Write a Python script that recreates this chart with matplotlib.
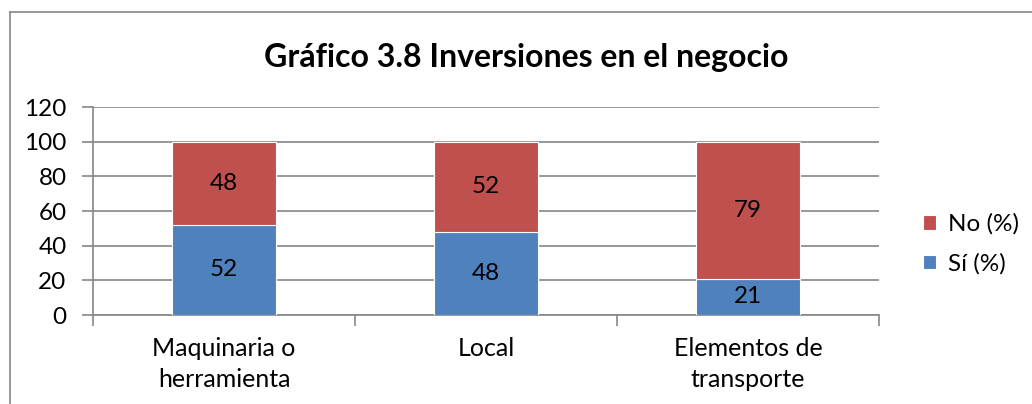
import matplotlib
matplotlib.use("Agg")
import matplotlib.pyplot as plt
from matplotlib.lines import Line2D
import numpy as np

categories = ["Maquinaria o\nherramienta", "Local", "Elementos de\ntransporte"]
si_values = [52, 48, 21]
no_values = [48, 52, 79]
y_ticks = [0, 20, 40, 60, 80, 100, 120]
title = "Gráfico 3.8 Inversiones en el negocio"

blue = "#4F81BD"
red = "#C0504D"
grid_col = "#868686"

plt.rcParams["font.family"] = ["Lato", "DejaVu Sans"]

W, H = 1032, 404
fig = plt.figure(figsize=(W / 100, H / 100), dpi=100)
ax = fig.add_axes([93 / W, 1 - 315 / H, (879 - 93) / W, (315 - 107) / H])

x = np.arange(len(categories))
b1 = ax.bar(x, si_values, width=0.4, color=blue, edgecolor="white", linewidth=0.8,
            label="Sí (%)", zorder=3)
b2 = ax.bar(x, no_values, bottom=si_values, width=0.4, color=red, edgecolor="white",
            linewidth=0.8, label="No (%)", zorder=3)

for rect, v in zip(b1, si_values):
    ax.text(rect.get_x() + rect.get_width() / 2, rect.get_y() + rect.get_height() / 2,
            str(v), ha="center", va="center", fontsize=17.5, zorder=4)
for rect, v in zip(b2, no_values):
    ax.text(rect.get_x() + rect.get_width() / 2, rect.get_y() + rect.get_height() / 2,
            str(v), ha="center", va="center", fontsize=17.5, zorder=4)

ax.set_xlim(-0.5, len(categories) - 0.5)
ax.set_ylim(0, 120)
ax.set_yticks(y_ticks)
ax.yaxis.grid(True, color=grid_col, linewidth=1.2, zorder=0)
ax.set_axisbelow(True)

# category labels centered, ticks at boundaries
ax.set_xticks(x)
ax.set_xticklabels(categories, fontsize=18, linespacing=1.4)
ax.tick_params(axis="x", length=0, pad=16)
ax.set_xticks(np.arange(len(categories) + 1) - 0.5, minor=True)
ax.tick_params(axis="x", which="minor", length=8, width=1.2, color=grid_col)
ax.tick_params(axis="y", length=8, width=1.2, color=grid_col, labelsize=17.5, pad=11)

for side in ["top", "right"]:
    ax.spines[side].set_visible(False)
for side in ["left", "bottom"]:
    ax.spines[side].set_color(grid_col)
    ax.spines[side].set_linewidth(1.2)

handles = [b2, b1]
leg = ax.legend(handles, ["No (%)", "Sí (%)"], loc="center left",
                bbox_to_anchor=(901 / W, 1 - 244 / H), bbox_transform=fig.transFigure,
                frameon=False, fontsize=17.5, handlelength=0.55, handleheight=0.55,
                handletextpad=0.5, labelspacing=0.75)

fig.text(526 / W, 1 - 57 / H, title, ha="center", va="center", fontsize=23,
         fontweight="bold")

# outer chart border
fig.add_artist(Line2D([10 / W, 10 / W], [0, 1 - 12 / H], transform=fig.transFigure,
                      color=grid_col, linewidth=1.2))
fig.add_artist(Line2D([10 / W, 1], [1 - 12 / H, 1 - 12 / H], transform=fig.transFigure,
                      color=grid_col, linewidth=1.2))

fig.savefig("out.png", dpi=100)
